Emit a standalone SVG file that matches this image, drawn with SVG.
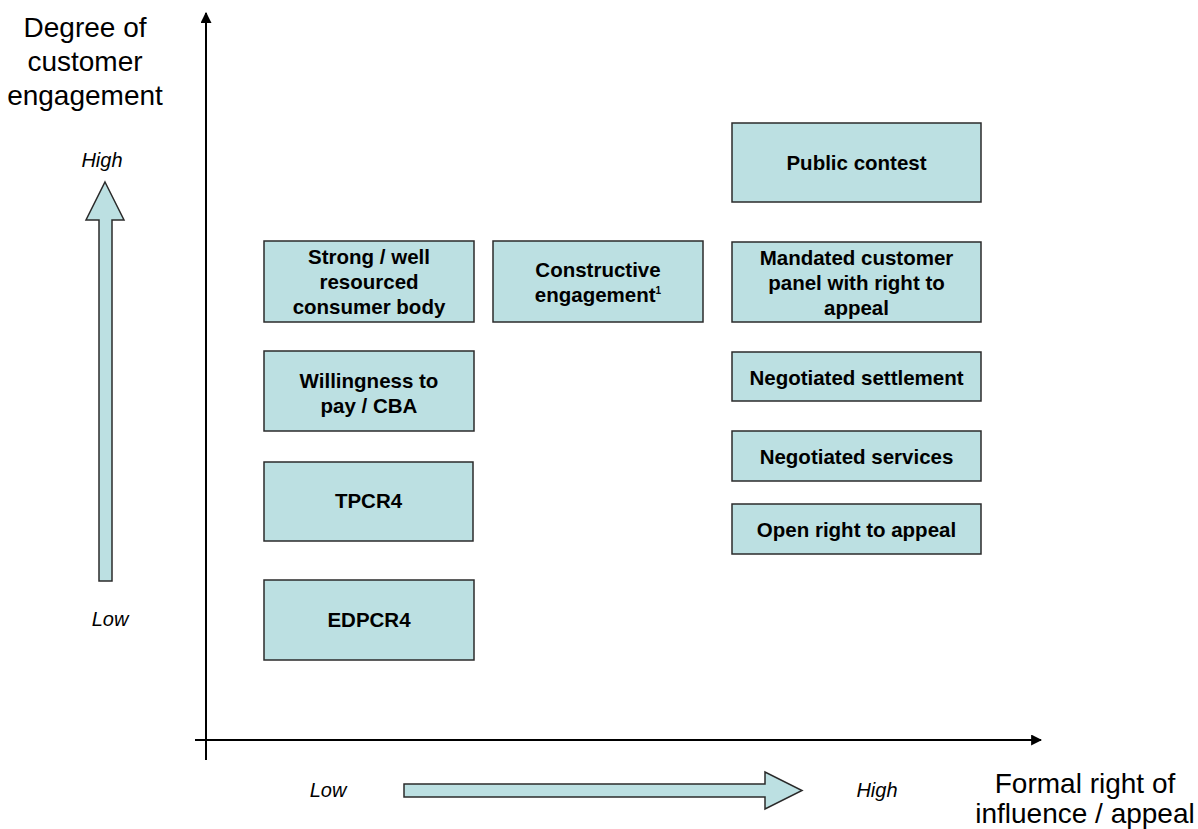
<svg xmlns="http://www.w3.org/2000/svg" width="1198" height="829" viewBox="0 0 1198 829">
<defs>
<style>
.box{fill:#BCE0E2;stroke:#2b2b2b;stroke-width:1.5}
.bt{font-family:"Liberation Sans",Arial,sans-serif;font-weight:bold;font-size:20.5px;fill:#000;text-anchor:middle}
.ax{font-family:"Liberation Sans",Arial,sans-serif;font-size:28px;fill:#000;text-anchor:middle}
.it{font-family:"Liberation Sans",Arial,sans-serif;font-style:italic;font-size:20px;fill:#000;text-anchor:middle}
.axis{stroke:#000;stroke-width:2;fill:none}
.fat{fill:#BCE0E2;stroke:#2b2b2b;stroke-width:1.5}
</style>
<marker id="ah" viewBox="0 0 10 10" refX="9" refY="5" markerWidth="11" markerHeight="11" orient="auto" markerUnits="userSpaceOnUse">
<path d="M0,0 L10,5 L0,10 z" fill="#000"/>
</marker>
</defs>
<rect width="1198" height="829" fill="#fff"/>
<g id="connectors">
<line class="axis" x1="206" y1="760" x2="206" y2="13" marker-end="url(#ah)"/>
<line class="axis" x1="195" y1="740" x2="1041" y2="740" marker-end="url(#ah)"/>
<polygon class="fat" points="105,182 124,220 112,220 112,581 99,581 99,220 86,220"/>
<polygon class="fat" points="404,784 765,784 765,772 802,790.5 765,809 765,797 404,797"/>
</g>
<g id="labels">
<text class="ax" x="85" y="37">Degree of</text>
<text class="ax" x="85" y="71">customer</text>
<text class="ax" x="85" y="105">engagement</text>
<text class="it" x="102" y="167">High</text>
<text class="it" x="110" y="626">Low</text>
<text class="it" x="328" y="797">Low</text>
<text class="it" x="877" y="797">High</text>
<text class="ax" x="1085" y="793">Formal right of</text>
<text class="ax" x="1085" y="823">influence / appeal</text>
</g>
<g id="n-strong">
<rect class="box" x="264" y="241" width="210" height="81"/>
<text class="bt" x="369" y="264">Strong / well</text>
<text class="bt" x="369" y="289">resourced</text>
<text class="bt" x="369" y="314">consumer body</text>
</g>
<g id="n-constructive">
<rect class="box" x="493" y="241" width="210" height="81"/>
<text class="bt" x="598" y="277">Constructive</text>
<text class="bt" x="598" y="302">engagement<tspan font-size="10" dy="-8">1</tspan></text>
</g>
<g id="n-willingness">
<rect class="box" x="264" y="351" width="210" height="80"/>
<text class="bt" x="369" y="388">Willingness to</text>
<text class="bt" x="369" y="413">pay / CBA</text>
</g>
<g id="n-tpcr4">
<rect class="box" x="264" y="462" width="209" height="79"/>
<text class="bt" x="368.5" y="508">TPCR4</text>
</g>
<g id="n-edpcr4">
<rect class="box" x="264" y="580" width="210" height="80"/>
<text class="bt" x="369" y="627">EDPCR4</text>
</g>
<g id="n-public">
<rect class="box" x="732" y="123" width="249" height="79"/>
<text class="bt" x="856.5" y="170">Public contest</text>
</g>
<g id="n-mandated">
<rect class="box" x="732" y="242" width="249" height="80"/>
<text class="bt" x="856.5" y="265">Mandated customer</text>
<text class="bt" x="856.5" y="290">panel with right to</text>
<text class="bt" x="856.5" y="315">appeal</text>
</g>
<g id="n-settlement">
<rect class="box" x="732" y="352" width="249" height="49"/>
<text class="bt" x="856.5" y="385">Negotiated settlement</text>
</g>
<g id="n-services">
<rect class="box" x="732" y="431" width="249" height="50"/>
<text class="bt" x="856.5" y="464">Negotiated services</text>
</g>
<g id="n-appeal">
<rect class="box" x="732" y="504" width="249" height="50"/>
<text class="bt" x="856.5" y="537">Open right to appeal</text>
</g>
</svg>
